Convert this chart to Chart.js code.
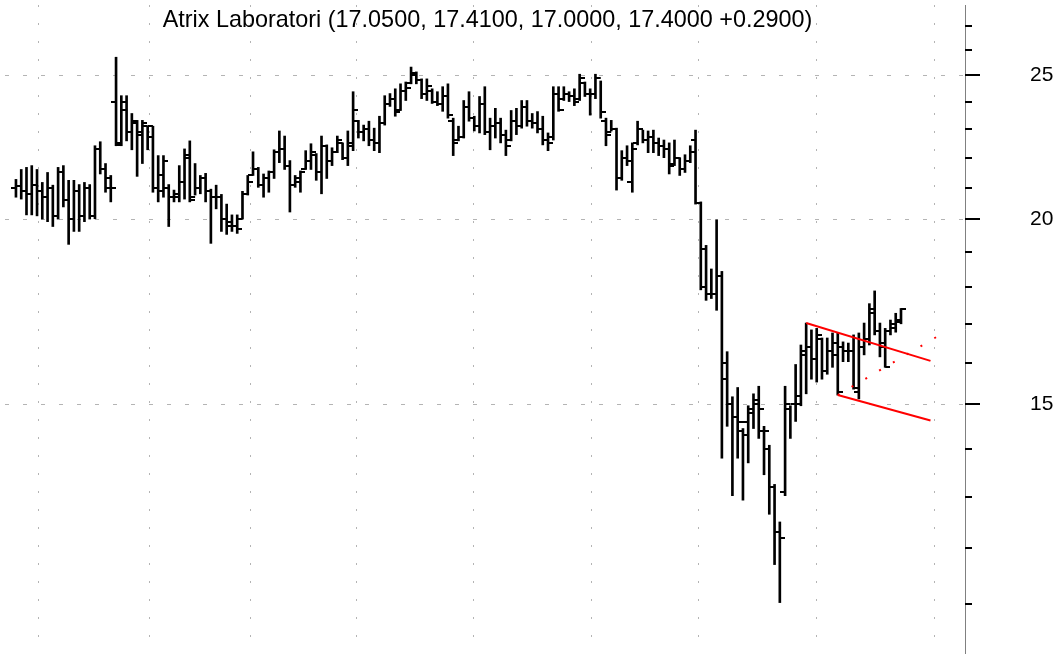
<!DOCTYPE html>
<html>
<head>
<meta charset="utf-8">
<script src="https://cdn.jsdelivr.net/npm/chart.js@4.4.1/dist/chart.umd.min.js"></script>
<style>
  html, body { margin: 0; padding: 0; background: #fff; }
  #wrap { position: relative; width: 1063px; height: 658px; }
  #ohlcChart { display: block; }
  #title {
    position: absolute; left: 0; width: 975px; top: 6px;
    text-align: center; color: #000; white-space: nowrap;
    font: 23.4px "Liberation Sans", Arial, sans-serif;
  }
</style>
</head>
<body>
<div id="wrap">
  <canvas id="ohlcChart" width="1063" height="658"></canvas>
  <div id="title">Atrix Laboratori (17.0500, 17.4100, 17.0000, 17.4000 +0.2900)</div>
</div>
<script>
// daily bars, oldest first
const highs = [
  21.27,21.6,21.67,21.73,21.6,21.17,21.5,21.08,21.67,21.73,
  21.24,21.24,21.1,21.17,21.1,22.41,22.55,21.8,21.4,25.71,
  24.22,24.22,23.56,23.31,23.31,23.1,23.1,22.07,22.07,21.1,
  20.92,21.73,22.3,22.58,21.8,21.4,21.47,20.95,21.08,20.78,
  20.47,20.13,20.13,20.88,21.4,22.2,21.67,21.45,21.55,22.27,
  22.93,22.75,21.9,21.4,21.55,22.24,22.48,22.14,22.75,22.44,
  22.34,22.75,22.51,22.93,24.37,23.31,23.14,23.28,23.03,23.46,
  24.22,24.3,24.48,24.67,24.74,25.32,25.13,24.86,24.86,24.48,
  24.37,24.56,24.67,23.39,23.1,24.04,24.37,23.46,24.19,24.56,
  23.39,23.75,23.39,22.96,23.67,23.75,24.04,24.04,23.56,23.63,
  23.46,22.86,24.56,24.56,24.56,24.37,24.48,25.04,24.74,24.48,
  25.04,24.78,23.39,23.31,23.03,22.24,22.41,22.51,23.28,22.96,
  22.93,22.96,22.68,22.61,22.51,22.61,22.0,22.1,22.41,22.96,
  20.54,19.2,18.51,19.98,18.44,16.28,15.18,15.4,14.45,14.97,
  15.25,15.43,14.5,14.08,13.25,12.5,15.43,14.97,15.96,16.45,
  17.02,16.84,16.88,16.63,16.63,16.76,16.76,16.53,16.5,16.71,
  16.76,17.02,17.54,17.89,17.02,16.88,17.1,17.28,17.41
];
const lows = [
  20.69,20.63,20.13,20.13,20.1,20.0,19.92,19.77,20.0,20.38,
  19.23,19.62,19.62,19.92,20.0,20.01,21.45,20.85,20.54,22.41,
  22.41,22.58,22.27,21.37,21.8,22.27,20.85,20.54,20.69,19.77,
  20.54,20.54,20.63,20.54,20.76,20.8,20.54,19.26,20.32,19.62,
  19.53,19.62,19.56,20.0,20.76,21.4,21.01,20.69,20.85,21.3,
  21.83,21.6,20.22,21.01,20.85,21.6,21.6,21.24,20.8,21.3,
  21.73,22.17,21.93,21.73,22.24,22.68,22.58,22.41,22.24,22.17,
  23.14,23.82,23.46,23.67,24.04,24.67,24.67,24.11,24.04,23.93,
  23.85,23.64,23.39,22.07,22.58,22.68,23.28,22.93,22.86,22.8,
  22.27,22.68,22.51,22.07,22.58,22.8,23.03,23.1,23.03,22.86,
  22.44,22.24,22.61,23.64,24.04,24.0,23.85,24.04,24.19,23.5,
  24.11,23.39,22.41,22.93,20.92,21.24,21.73,20.85,22.44,22.51,
  22.17,22.17,22.07,22.0,21.45,21.73,21.4,21.5,21.83,20.47,
  17.92,17.63,17.68,17.36,13.8,14.5,13.02,13.8,12.93,13.7,
  14.45,14.23,13.45,12.65,11.7,11.03,13.02,14.23,14.61,14.97,
  15.25,15.6,15.53,15.6,15.72,15.89,15.22,16.03,16.03,15.36,
  15.13,16.2,16.45,16.71,16.15,15.89,16.71,16.78,17.0
];
const opens = [
  21.0,21.05,20.9,20.8,21.1,20.9,20.7,21.0,20.1,21.5,
  20.6,20.0,20.9,20.1,21.0,20.1,22.3,21.6,21.3,24.0,
  22.5,24.0,22.9,23.2,22.9,23.1,23.1,21.0,21.4,21.0,
  20.7,20.7,21.2,22.1,20.7,21.0,21.3,20.9,20.7,20.7,
  20.0,19.9,19.8,20.0,20.8,21.4,21.6,21.1,21.3,21.5,
  22.2,22.3,21.7,21.1,21.2,21.6,21.9,22.1,21.5,22.4,
  21.9,22.2,22.5,22.0,22.5,23.3,22.9,23.0,22.6,22.5,
  23.2,23.9,24.1,23.7,24.4,24.7,25.0,24.8,24.3,24.4,
  24.0,23.9,24.2,23.3,22.6,22.7,23.8,23.4,23.1,23.9,
  22.9,23.1,23.2,22.8,22.6,23.3,23.1,23.8,23.3,23.2,
  23.0,22.6,22.7,24.3,24.1,24.3,24.2,24.1,24.7,24.3,
  24.3,24.9,23.3,22.9,23.0,21.3,22.0,21.2,22.5,23.0,
  22.6,22.7,22.5,22.4,22.3,21.8,22.0,21.6,21.9,22.6,
  20.5,19.1,17.8,17.8,18.3,16.0,15.0,14.7,14.4,14.6,
  14.9,15.1,14.4,14.0,13.2,12.3,13.1,14.9,15.0,15.2,
  16.3,16.4,16.1,16.6,15.8,16.3,16.5,16.4,16.3,16.3,
  15.3,16.4,16.6,17.4,16.8,16.5,16.8,16.9,17.05
];
const closes = [
  21.05,20.9,20.8,21.1,20.9,20.7,21.0,20.1,21.5,20.6,
  20.0,20.9,20.1,21.0,20.1,22.3,21.6,21.0,21.0,22.45,
  23.7,22.9,23.3,22.8,23.2,22.7,21.0,20.9,21.9,20.7,
  20.8,21.2,22.0,20.6,21.0,21.3,20.9,20.7,20.7,20.0,
  19.8,19.8,19.7,20.8,21.2,21.6,21.1,21.3,21.5,22.2,
  22.3,21.7,21.1,21.3,21.5,21.9,22.2,21.5,22.4,21.9,
  22.2,22.6,22.0,22.4,23.7,22.9,23.0,22.6,22.5,23.2,
  23.9,24.1,23.6,24.4,24.5,25.1,24.8,24.3,24.6,24.0,
  23.9,24.2,23.5,22.5,22.7,23.8,23.4,23.1,23.9,22.9,
  23.1,23.2,22.8,22.4,23.3,23.1,23.8,23.3,23.2,23.0,
  22.6,22.5,24.3,23.7,24.3,24.2,24.0,24.9,24.3,24.3,
  24.9,23.6,22.8,23.0,21.3,22.0,21.9,22.3,23.0,22.6,
  22.7,22.5,22.4,22.3,21.7,22.0,21.6,21.9,22.2,20.5,
  18.0,17.8,17.8,18.3,15.6,15.0,14.7,14.6,14.3,14.8,
  15.0,14.9,14.4,13.2,12.3,12.2,15.0,15.0,15.0,16.2,
  16.4,16.1,16.7,15.8,16.3,16.2,15.3,16.3,16.3,15.4,
  16.4,16.6,17.3,16.8,16.4,15.9,17.0,17.1,17.4
];

// bar index where each month starts (vertical grid)
const monthStarts = [4.2, 25.3, 44.6, 64.7, 86.8, 109.3, 129.5, 152.0, 174.3];

// price axis
const priceTicks = [11, 12, 13, 14, 15, 16, 17, 18, 19, 20, 21, 22, 23, 24, 25, 26, 27];
const priceLabels = [15, 20, 25];

// hand drawn trend lines [bar index, price]
const upperTrend = [[150, 17.02], [173.6, 16.05]];
const lowerTrend = [[156, 15.22], [173.6, 14.63]];
const dottedTrend = [[156, 15.22], [176.4, 16.79]];

const toPts = arr => arr.map(p => ({ x: p[0], y: p[1] }));

// little half-width images for the open (left) and close (right) ticks
function tickImage(side) {
    const cv = document.createElement('canvas');
    cv.width = 10;
    cv.height = 2;
    const g = cv.getContext('2d');
    g.fillStyle = '#000';
    g.fillRect(side === 'open' ? 0 : 5, 0, 5, 2);
    return cv;
}

const axisTicks = {
    id: 'axisTicks',
    afterDraw(chart) {
        const s = chart.scales.y;
        const c = chart.ctx;
        c.save();
        c.strokeStyle = '#000';
        c.lineWidth = 2;
        priceTicks.forEach(v => {
            const py = Math.round(s.getPixelForValue(v));
            const len = priceLabels.includes(v) ? 15 : 7;
            c.beginPath();
            c.moveTo(s.left, py);
            c.lineTo(s.left + len, py);
            c.stroke();
        });
        c.restore();
    }
};

const bars = highs.map((h, i) => ({ x: i, y: [lows[i], h] }));
const ctx = document.getElementById('ohlcChart').getContext('2d');

new Chart(ctx, {
    type: 'bar',
    data: {
        datasets: [
            {
                type: 'line', data: toPts(upperTrend),
                borderColor: '#ff0000', borderWidth: 2, pointRadius: 0
            },
            {
                type: 'line', data: toPts(lowerTrend),
                borderColor: '#ff0000', borderWidth: 2, pointRadius: 0
            },
            {
                type: 'line', data: toPts(dottedTrend),
                borderColor: '#ff0000', borderWidth: 2, borderDash: [2, 14], pointRadius: 0
            },
            {
                type: 'line', showLine: false,
                data: opens.map((v, i) => ({ x: i, y: v })),
                pointStyle: tickImage('open'), pointRadius: 3
            },
            {
                type: 'line', showLine: false,
                data: closes.map((v, i) => ({ x: i, y: v })),
                pointStyle: tickImage('close'), pointRadius: 3
            },
            {
                type: 'bar', data: bars,
                backgroundColor: '#000', borderWidth: 0, barThickness: 2
            }
        ]
    },
    options: {
        responsive: false,
        animation: false,
        layout: { padding: 0 },
        plugins: { legend: { display: false }, tooltip: { enabled: false } },
        scales: {
            x: {
                type: 'linear',
                min: -2.08,
                max: 180.15,
                offset: false,
                afterBuildTicks: s => { s.ticks = monthStarts.map(v => ({ value: v })); },
                afterFit: s => { s.height = 0; },
                ticks: { display: false },
                grid: { color: '#b4b4b4', lineWidth: 1, drawTicks: false, offset: false },
                border: { display: false, dash: [2, 16] }
            },
            y: {
                type: 'logarithmic',
                position: 'right',
                min: 10.2,
                max: 27.88,
                afterBuildTicks: s => { s.ticks = priceTicks.map(v => ({ value: v })); },
                afterFit: s => { s.width = 98; s.paddingTop = 0; s.paddingBottom = 0; },
                ticks: {
                    padding: 0,
                    color: '#000',
                    font: { family: '"Liberation Sans", Arial, sans-serif', size: 21 },
                    callback: v => priceLabels.includes(v) ? String(v) : null
                },
                grid: {
                    color: c => priceLabels.includes(c.tick && c.tick.value) ? '#b4b4b4' : 'rgba(0,0,0,0)',
                    lineWidth: 1,
                    drawTicks: true,
                    tickLength: 65,
                    tickColor: 'rgba(0,0,0,0)'
                },
                border: { display: true, color: '#808080', width: 1, dash: [4, 14] }
            }
        }
    },
    plugins: [axisTicks]
});
</script>
</body>
</html>
